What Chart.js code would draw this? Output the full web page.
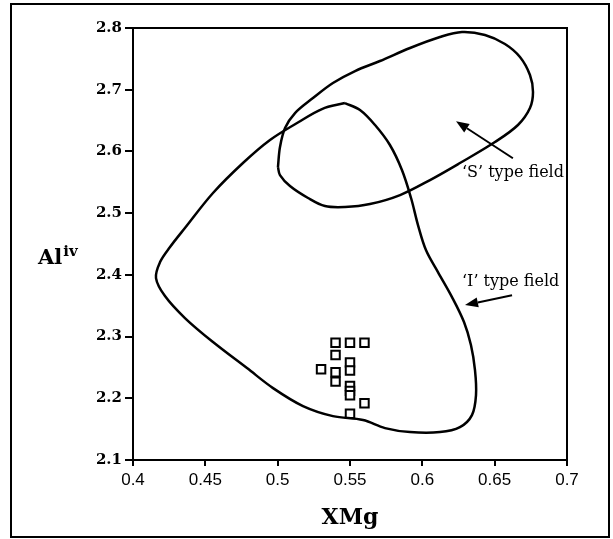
<!DOCTYPE html>
<html>
<head>
<meta charset="utf-8">
<script src="https://cdn.jsdelivr.net/npm/chart.js@4/dist/chart.umd.min.js"></script>
<style>
html,body{margin:0;padding:0;background:#fff;}
#wrap{width:613px;height:539px;position:relative;}
</style>
</head>
<body>
<div id="wrap"><canvas id="c" width="613" height="539"></canvas></div>
<script>
// ---- data ----
const xTicks = [0.4, 0.45, 0.5, 0.55, 0.6, 0.65, 0.7];
const xTickLabels = ['0.4', '0.45', '0.5', '0.55', '0.6', '0.65', '0.7'];
const yTicks = [2.1, 2.2, 2.3, 2.4, 2.5, 2.6, 2.7, 2.8];
const yTickLabels = ['2.1', '2.2', '2.3', '2.4', '2.5', '2.6', '2.7', '2.8'];

const sampleX = [0.54, 0.55, 0.56, 0.54, 0.53, 0.55, 0.55, 0.54, 0.54, 0.55, 0.55, 0.55, 0.56, 0.55];
const sampleY = [2.29, 2.29, 2.29, 2.27, 2.247, 2.258, 2.245, 2.242, 2.227, 2.22, 2.212, 2.205, 2.192, 2.175];

// 'I' type field outline (starts at its top corner)
const iFieldX = [0.5465, 0.5569, 0.5673, 0.5776, 0.5859, 0.5922, 0.5970, 0.6025, 0.6108, 0.6205, 0.6288, 0.6336, 0.6364, 0.6371, 0.6343, 0.6260, 0.6122, 0.5915, 0.5742, 0.5590, 0.5382, 0.5175, 0.4968, 0.4788, 0.4553, 0.4359, 0.4221, 0.4159, 0.4187, 0.4256, 0.4359, 0.4553, 0.4760, 0.4947, 0.5134, 0.5306, 0.5465];
const iFieldY = [2.6784, 2.6671, 2.6428, 2.6104, 2.5699, 2.5245, 2.4807, 2.4402, 2.4045, 2.3640, 2.3235, 2.2862, 2.2457, 2.2052, 2.1728, 2.1533, 2.1452, 2.1452, 2.1517, 2.1647, 2.1711, 2.1874, 2.2165, 2.2489, 2.2911, 2.3300, 2.3656, 2.3948, 2.4207, 2.4451, 2.4759, 2.5326, 2.5812, 2.6185, 2.6460, 2.6687, 2.6784];

// 'S' type field outline
const sFieldX = [0.5002, 0.5016, 0.5051, 0.5120, 0.5244, 0.5382, 0.5535, 0.5707, 0.5915, 0.6122, 0.6274, 0.6433, 0.6571, 0.6675, 0.6744, 0.6765, 0.6744, 0.6661, 0.6502, 0.6260, 0.6053, 0.5846, 0.5638, 0.5465, 0.5327, 0.5210, 0.5085, 0.5016, 0.5002];
const sFieldY = [2.5747, 2.6071, 2.6379, 2.6622, 2.6865, 2.7109, 2.7303, 2.7465, 2.7676, 2.7854, 2.7935, 2.7887, 2.7741, 2.7530, 2.7238, 2.6963, 2.6703, 2.6428, 2.6152, 2.5812, 2.5536, 2.5293, 2.5147, 2.5099, 2.5115, 2.5245, 2.5439, 2.5617, 2.5747];

// arrows and their labels
const fieldLabels = ['\u2018S\u2019 type field', '\u2018I\u2019 type field'];
const labelX = [0.6274, 0.6274];
const labelY = [2.565, 2.388];
const arrowTailX = [0.6626, 0.662];
const arrowTailY = [2.589, 2.367];
const arrowTipX = [0.6233, 0.6295];
const arrowTipY = [2.649, 2.351];

const toPts = (xs, ys) => xs.map((x, i) => ({x: x, y: ys[i]}));

const decor = {
  id: 'decor',
  beforeDraw(chart) {
    const ctx = chart.ctx;
    ctx.save();
    ctx.fillStyle = '#fff';
    ctx.fillRect(0, 0, chart.width, chart.height);
    ctx.restore();
  },
  afterDraw(chart) {
    const ctx = chart.ctx;
    const a = chart.chartArea;
    const xs = chart.scales.x, ys = chart.scales.y;
    ctx.save();
    // outer frame
    ctx.strokeStyle = '#000';
    ctx.lineWidth = 2;
    ctx.strokeRect(11, 4, 598, 533);
    // plot box
    ctx.lineWidth = 2;
    ctx.strokeRect(a.left, a.top, a.right - a.left, a.bottom - a.top);
    // arrows
    for (let i = 0; i < fieldLabels.length; i++) {
      const x1 = xs.getPixelForValue(arrowTailX[i]), y1 = ys.getPixelForValue(arrowTailY[i]);
      const x2 = xs.getPixelForValue(arrowTipX[i]), y2 = ys.getPixelForValue(arrowTipY[i]);
      const ang = Math.atan2(y2 - y1, x2 - x1);
      const hl = 13, hw = 5;
      const bx = x2 - hl * Math.cos(ang), by = y2 - hl * Math.sin(ang);
      ctx.beginPath();
      ctx.lineWidth = 2;
      ctx.moveTo(x1, y1);
      ctx.lineTo(bx, by);
      ctx.stroke();
      ctx.beginPath();
      ctx.moveTo(x2, y2);
      ctx.lineTo(bx + hw * Math.sin(ang), by - hw * Math.cos(ang));
      ctx.lineTo(bx - hw * Math.sin(ang), by + hw * Math.cos(ang));
      ctx.closePath();
      ctx.fillStyle = '#000';
      ctx.fill();
      // label
      ctx.font = '16px "DejaVu Serif"';
      ctx.textAlign = 'left';
      ctx.textBaseline = 'middle';
      ctx.fillText(fieldLabels[i], xs.getPixelForValue(labelX[i]), ys.getPixelForValue(labelY[i]));
    }
    // y axis title with superscript
    ctx.fillStyle = '#000';
    ctx.textAlign = 'left';
    ctx.textBaseline = 'alphabetic';
    ctx.font = 'bold 21px "DejaVu Serif"';
    const tx = 38, ty = 264;
    ctx.fillText('Al', tx, ty);
    const w = ctx.measureText('Al').width;
    ctx.font = 'bold 15px "DejaVu Serif"';
    ctx.fillText('iv', tx + w + 1, ty - 8);
    ctx.restore();
  }
};

new Chart(document.getElementById('c'), {
  type: 'scatter',
  data: {
    datasets: [
      {
        data: toPts(iFieldX, iFieldY),
        showLine: true, tension: 0.35,
        borderColor: '#000', borderWidth: 2.5,
        pointRadius: 0, fill: false
      },
      {
        data: toPts(sFieldX, sFieldY),
        showLine: true, tension: 0.35,
        borderColor: '#000', borderWidth: 2.5,
        pointRadius: 0, fill: false
      },
      {
        data: toPts(sampleX, sampleY),
        showLine: false,
        pointStyle: 'rect', pointRadius: 6,
        pointBorderColor: '#000', pointBorderWidth: 2,
        pointBackgroundColor: '#fff'
      }
    ]
  },
  options: {
    responsive: false,
    animation: false,
    devicePixelRatio: 1,
    layout: {padding: {left: 0, top: 28, right: 46, bottom: 0}},
    plugins: {legend: {display: false}, tooltip: {enabled: false}},
    scales: {
      x: {
        type: 'linear', min: 0.4, max: 0.7,
        afterBuildTicks: s => { s.ticks = xTicks.map(v => ({value: v})); },
        afterFit: s => { s.height = 79; },
        grid: {drawOnChartArea: false, drawTicks: true, tickLength: 6, color: '#000', lineWidth: 2},
        border: {display: true, color: '#000', width: 2},
        ticks: {
          color: '#000', padding: 4,
          font: {family: '"Liberation Sans", Arial, sans-serif', size: 17},
          callback: (v, i) => xTickLabels[i]
        },
        title: {
          display: true, text: 'XMg', color: '#000',
          font: {family: '"DejaVu Serif"', size: 22, weight: 'bold'},
          padding: {top: 0, bottom: 8}
        }
      },
      y: {
        type: 'linear', min: 2.1, max: 2.8,
        afterBuildTicks: s => { s.ticks = yTicks.map(v => ({value: v})); },
        afterFit: s => { s.width = 133; },
        grid: {drawOnChartArea: false, drawTicks: true, tickLength: 8, color: '#000', lineWidth: 2},
        border: {display: true, color: '#000', width: 2},
        ticks: {
          color: '#000', padding: 3,
          font: {family: '"DejaVu Serif"', size: 15, weight: 'bold'},
          callback: (v, i) => yTickLabels[i]
        },
        title: {display: false}
      }
    }
  },
  plugins: [decor]
});
</script>
</body>
</html>
